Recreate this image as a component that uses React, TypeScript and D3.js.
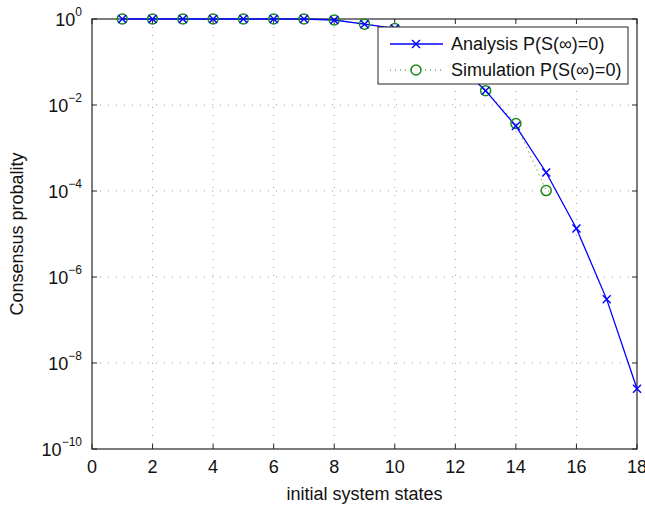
import React from "react";
import * as d3 from "d3";

const states = [1, 2, 3, 4, 5, 6, 7, 8, 9, 10, 11, 12, 13, 14, 15, 16, 17, 18];
const analysisLog10 = [0, 0, 0, 0, 0, 0, 0, -0.023, -0.12, -0.22, -0.5, -1.0, -1.667, -2.49, -3.57, -4.87, -6.52, -8.6];
const simStates = [1, 2, 3, 4, 5, 6, 7, 8, 9, 10, 11, 12, 13, 14, 15];
const simulationLog10 = [0, 0, 0, 0, 0, 0, 0, -0.023, -0.12, -0.22, -0.5, -1.0, -1.667, -2.43, -3.99];
const xTicks = [0, 2, 4, 6, 8, 10, 12, 14, 16, 18];
const yTickExps = [0, -2, -4, -6, -8, -10];
const legendLabels = ["Analysis P(S(\u221e)=0)", "Simulation P(S(\u221e)=0)"];

const W = 645, H = 507;
const L = 92, R = 637, T = 19, B = 449;
const FONT = "'Liberation Sans', Arial, Helvetica, sans-serif";
const BLUE = "#0000ff";
const GREEN = "#1a8a1a";

export default function App() {
  const x = d3.scaleLinear().domain([0, 18]).range([L, R]);
  const y = d3.scaleLog().domain([1e-10, 1]).range([B, T]);

  const analysis = states.map((s, i) => ({ x: s, y: Math.pow(10, analysisLog10[i]) }));
  const sim = simStates.map((s, i) => ({ x: s, y: Math.pow(10, simulationLog10[i]) }));
  const line = d3.line<{ x: number; y: number }>().x(d => x(d.x)).y(d => y(d.y));

  const cross = (cx: number, cy: number, k: number, key: string | number) => (
    <g key={key} stroke={BLUE} strokeWidth={1.4}>
      <line x1={cx - k} y1={cy - k} x2={cx + k} y2={cy + k} />
      <line x1={cx - k} y1={cy + k} x2={cx + k} y2={cy - k} />
    </g>
  );

  const axisColor = "#262626";
  const gridColor = "#9a9a9a";

  return (
    <svg width={W} height={H} style={{ position: "absolute", left: 0, top: 0, background: "#fff" }} fontFamily={FONT}>
      <rect x={0} y={0} width={W} height={H} fill="#fff" />
      {/* grid */}
      {xTicks.filter(t => t > 0 && t < 18).map(t => (
        <line key={"gx" + t} x1={x(t)} x2={x(t)} y1={T} y2={B} stroke={gridColor} strokeWidth={1} strokeDasharray="1,7" />
      ))}
      {yTickExps.filter(e => e < 0 && e > -10).map(e => (
        <line key={"gy" + e} x1={L} x2={R} y1={y(Math.pow(10, e))} y2={y(Math.pow(10, e))} stroke={gridColor} strokeWidth={1} strokeDasharray="1,7" />
      ))}
      {/* ticks */}
      {xTicks.map(t => (
        <g key={"tx" + t}>
          <line x1={x(t)} x2={x(t)} y1={B} y2={B - 5} stroke={axisColor} />
          <line x1={x(t)} x2={x(t)} y1={T} y2={T + 5} stroke={axisColor} />
          <text x={x(t)} y={B + 24} fontSize={18} textAnchor="middle" fill="#111">{t}</text>
        </g>
      ))}
      {yTickExps.map(e => {
        const yy = y(Math.pow(10, e));
        return (
          <g key={"ty" + e}>
            <line x1={L} x2={L + 5} y1={yy} y2={yy} stroke={axisColor} />
            <line x1={R} x2={R - 5} y1={yy} y2={yy} stroke={axisColor} />
            <text x={82} y={yy + 7} fontSize={18} textAnchor="end" fill="#111">
              10<tspan fontSize={12} dy={-10}>{e === 0 ? "0" : "\u2212" + Math.abs(e)}</tspan>
            </text>
          </g>
        );
      })}
      {/* box */}
      <rect x={L} y={T} width={R - L} height={B - T} fill="none" stroke={axisColor} strokeWidth={1.2} />
      {/* series */}
      <path d={line(sim) || ""} fill="none" stroke={GREEN} strokeWidth={1} strokeDasharray="1,4" />
      <path d={line(analysis) || ""} fill="none" stroke={BLUE} strokeWidth={1.3} />
      {sim.map((d, i) => (
        <circle key={"c" + i} cx={x(d.x)} cy={y(d.y)} r={5} fill="none" stroke={GREEN} strokeWidth={1.5} />
      ))}
      {analysis.map((d, i) => cross(x(d.x), y(d.y), 4, "a" + i))}
      {/* legend */}
      <g>
        <rect x={378} y={27} width={250} height={57} fill="#fff" stroke={axisColor} strokeWidth={1} />
        <line x1={390} x2={443} y1={44} y2={44} stroke={BLUE} strokeWidth={1.3} />
        {cross(416, 44, 4, "lg")}
        <text x={451} y={50} fontSize={18} fill="#111">{legendLabels[0]}</text>
        <line x1={390} x2={443} y1={70} y2={70} stroke={GREEN} strokeWidth={1} strokeDasharray="1,4" />
        <circle cx={416} cy={70} r={5} fill="#fff" stroke={GREEN} strokeWidth={1.5} />
        <text x={451} y={76} fontSize={18} fill="#111">{legendLabels[1]}</text>
      </g>
      {/* labels */}
      <text x={(L + R) / 2} y={500} fontSize={18} textAnchor="middle" fill="#111">initial system states</text>
      <text transform={`translate(23,${(T + B) / 2}) rotate(-90)`} fontSize={18} textAnchor="middle" fill="#111">Consensus probality</text>
    </svg>
  );
}
